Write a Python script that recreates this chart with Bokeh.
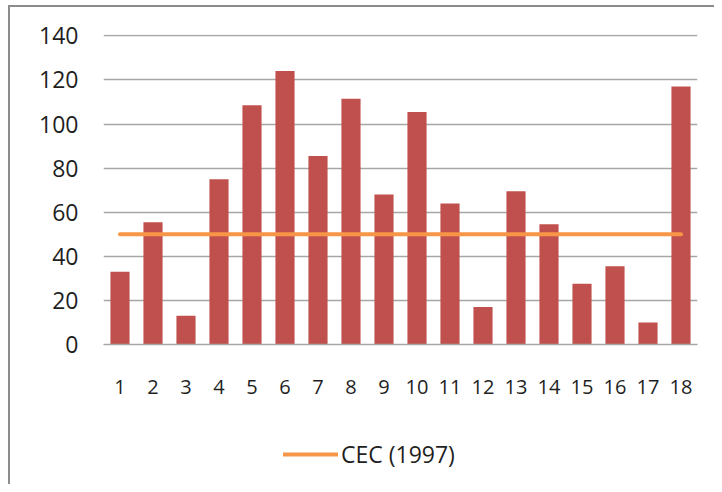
from bokeh.plotting import figure
from bokeh.layouts import column
from bokeh.models import ColumnDataSource, FactorRange, Range1d, Legend, LegendItem, FixedTicker
from bokeh.embed import file_html
from bokeh.resources import INLINE

categories = [str(i) for i in range(1, 19)]
values = [33, 55.5, 13, 75, 108.5, 124, 85.5, 111.5, 68, 105.5, 64, 17, 69.5, 54.5, 27.5, 35.5, 10, 117]
cec_value = 50
cec_label = "CEC (1997)"
y_ticks = [0, 20, 40, 60, 80, 100, 120, 140]

CEC_COLOR = "#F79646"
BAR_COLOR = "#C0504D"

bar_src = ColumnDataSource(dict(x=categories, top=values))
cec_src = ColumnDataSource(dict(x=[categories[0], categories[-1]], y=[cec_value, cec_value]))

p = figure(width=714, height=406, output_backend="svg", toolbar_location=None,
           x_range=FactorRange(*categories, range_padding=0),
           y_range=Range1d(0, 140.6),
           min_border_left=103, min_border_right=17, min_border_top=34, min_border_bottom=62)
p.border_fill_color = None
p.background_fill_color = "white"

p.vbar(x="x", top="top", width=0.58, source=bar_src, fill_color=BAR_COLOR, line_color=None)
p.line(x="x", y="y", source=cec_src, line_color=CEC_COLOR, line_width=4, line_cap="round")

p.outline_line_color = None
p.xgrid.grid_line_color = None
p.ygrid.grid_line_color = "#a6a6a6"
p.ygrid.grid_line_width = 1.5
p.yaxis.ticker = FixedTicker(ticks=y_ticks)

for ax in (p.xaxis[0], p.yaxis[0]):
    ax.major_tick_line_color = None
    ax.minor_tick_line_color = None
    ax.major_tick_out = 0
    ax.major_tick_in = 0
    ax.major_label_text_font = "Open Sans"
    ax.major_label_text_color = "#1f1f1f"
p.yaxis.major_label_text_font_size = "23px"
p.xaxis.major_label_text_font_size = "20px"
p.yaxis.axis_line_color = None
p.yaxis.major_label_standoff = 25
p.xaxis.axis_line_color = "#a6a6a6"
p.xaxis.axis_line_width = 1.5
p.xaxis.major_label_standoff = 35

# legend strip below the chart
p2 = figure(width=714, height=78, output_backend="svg", toolbar_location=None,
            x_axis_type=None, y_axis_type=None,
            x_range=FactorRange(*categories, range_padding=0), y_range=Range1d(0, 1),
            min_border_left=0, min_border_right=0, min_border_top=0, min_border_bottom=0)
p2.border_fill_color = None
p2.background_fill_color = None
p2.outline_line_color = None
p2.xgrid.grid_line_color = None
p2.ygrid.grid_line_color = None
# same series as the main line; it lies outside this strip's range so only its legend glyph shows
r_leg = p2.line(x="x", y="y", source=cec_src, line_color=CEC_COLOR, line_width=4, line_cap="round")

legend = Legend(items=[LegendItem(label=cec_label, renderers=[r_leg])],
                location=(180, 14), orientation="horizontal",
                glyph_width=55, glyph_height=20, label_standoff=3, padding=0, margin=0,
                spacing=0, border_line_color=None, background_fill_alpha=0,
                label_text_font="Open Sans", label_text_font_size="23px", label_text_color="#1f1f1f")
p2.add_layout(legend)

layout = column(p, p2, spacing=0)
layout.styles = {
    "background-color": "white",
    "background-image": "linear-gradient(#8c8c8c, #8c8c8c), linear-gradient(#8c8c8c, #8c8c8c)",
    "background-size": "2px 100%, 100% 2px",
    "background-position": "8px 5px, 8px 5px",
    "background-repeat": "no-repeat",
}

open("out.html", "w").write(file_html(layout, INLINE))
